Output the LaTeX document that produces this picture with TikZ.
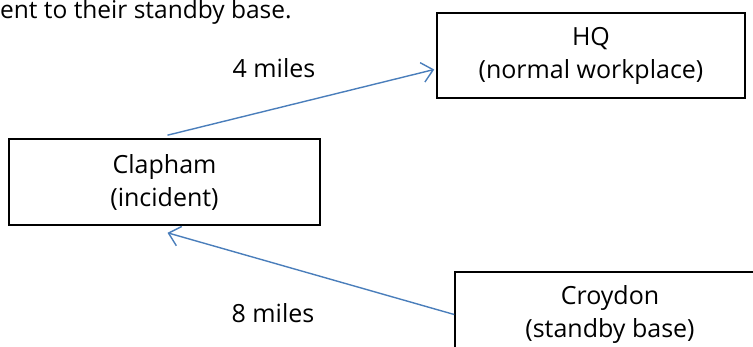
\documentclass[tikz,border=0pt]{standalone}
\usepackage{fontspec}
\setmainfont{Open Sans}
\usepackage{xcolor}
\usepackage{tikz}
\usetikzlibrary{positioning,calc,arrows.meta}

\definecolor{linkblue}{RGB}{74,126,187}

\begin{document}
\begin{tikzpicture}[x=1pt, y=-1pt,
    place/.style={draw=black, line width=1.6pt, align=center, inner sep=0pt,
        font=\fontsize{25}{33}\selectfont},
    trip/.style={draw=linkblue, line width=1.4pt,
        -{Straight Barb[length=11pt,width=20pt,line width=1.4pt]}},
    dist/.style={font=\fontsize{25}{30}\selectfont}]
    \useasboundingbox (0,0) rectangle (753,347);
    \clip (0,0) rectangle (753,347);

    % text cut off at the top
    \node [anchor=base west, inner sep=0pt, font=\fontsize{24.5}{30}\selectfont] (note) at (0,19) {ent to their standby base.};

    % sites
    \node [place, minimum width=308pt, minimum height=85pt] (hq) at (591,55.5) {HQ\\(normal workplace)};
    \node [place, minimum width=311pt, minimum height=86pt] (clapham) at (164.5,182) {Clapham\\(incident)};
    \node [place, minimum width=310pt, minimum height=85pt] (croydon) at (610,314.5) {Croydon\\(standby base)};

    % journeys
    \coordinate (hqin) at ([yshift=-14pt]hq.west);
    \draw [trip] ([xshift=3pt, yshift=3pt]clapham.north) -- ([xshift=-2pt]hqin);
    \draw [trip] (croydon.west) -- ([xshift=3pt, yshift=-7pt]clapham.south);

    \node [dist] (four) at (274,68) {4 miles};
    \node [dist] (eight) at (273,313) {8 miles};
\end{tikzpicture}
\end{document}
